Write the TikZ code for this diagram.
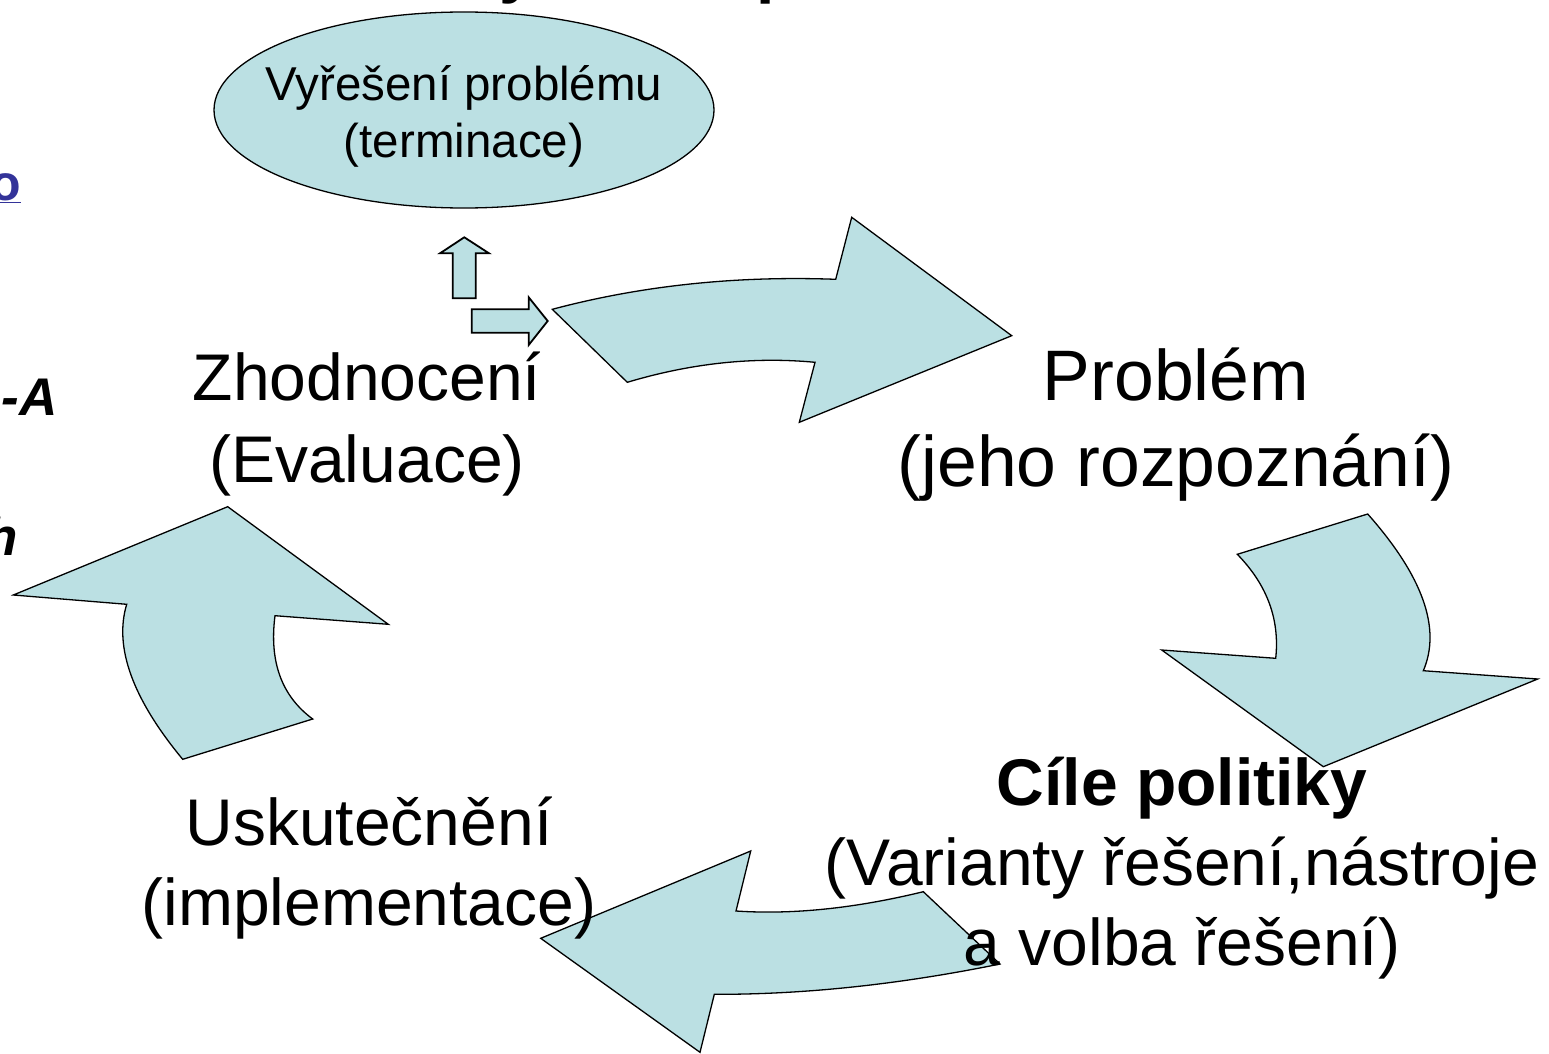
\documentclass[tikz,border=0pt]{standalone}
\usepackage{fontspec}
\setmainfont{Liberation Sans}
\usetikzlibrary{shapes.geometric}
\definecolor{arrowfill}{RGB}{187,224,227}
\definecolor{linkblue}{RGB}{51,51,153}
\tikzset{
  bigarrow/.style={fill=arrowfill, draw=black, line width=1.3pt, line join=miter},
  smallarrow/.style={fill=arrowfill, draw=black, line width=1.8pt, line join=miter},
  stagelabel/.style={align=center, inner sep=0pt, font=\fontsize{66}{80}\selectfont},
  fragment/.style={inner sep=0pt, font=\fontsize{53}{60}\selectfont\bfseries\itshape},
}
\begin{document}
\begin{tikzpicture}[x=1pt,y=-1pt]
\useasboundingbox (0,0) rectangle (1549,1054);
\begin{scope}
\clip (0,0) rectangle (1549,1054);
% clipped fragments of surrounding slide text
\node[inner sep=0pt, anchor=base, font=\fontsize{66}{70}\selectfont\bfseries] (fy) at (518,-9) {y};
\node[inner sep=0pt, anchor=base, font=\fontsize{66}{70}\selectfont\bfseries] (fp) at (777,-9) {p};
\node[inner sep=0pt, anchor=base east, text=linkblue, font=\fontsize{50}{60}\selectfont\bfseries] (fo) at (21,200) {\underline{o}};
\node[fragment, anchor=base east] (fa) at (58,415) {-A};
\node[fragment, anchor=base east] (fh) at (18,555) {h};
\end{scope}

% ellipse
\node[ellipse, draw=black, line width=1.3pt, fill=arrowfill, minimum width=500pt, minimum height=196pt, inner sep=0pt] (term) at (464,110) {};
\node[align=center, inner sep=0pt, font=\fontsize{47.5}{57}\selectfont] (termtext) at (464,116) {Vyřešení problému\\(terminace)};

% small arrows
\draw[smallarrow] (464.3,237.3) -- (489,253.3) -- (475.7,253.3) -- (475.7,298.3) -- (452.7,298.3) -- (452.7,253.3) -- (440,253.3) -- cycle;
\draw[smallarrow] (547.7,321) -- (528.7,345) -- (528.7,332.7) -- (471.7,332.7) -- (471.7,309.3) -- (528.7,309.3) -- (528.7,297.3) -- cycle;

% big arrow 1: evaluation -> problem
\draw[bigarrow] (552.3,309.3) .. controls (641.4,285.6) and (735.9,275.6) .. (835.7,279.3) -- (851.7,217.3) -- (1011.7,335.7) -- (799.3,422.3) -- (815,362.3) .. controls (753.6,356.5) and (691.0,363.2) .. (627.3,382.3) -- cycle;
% big arrow 2: problem -> goals
\draw[bigarrow] (1367.7,514) .. controls (1422.9,576.3) and (1441.4,628.6) .. (1423.3,670.7) -- (1537.7,679) -- (1323.3,766.7) -- (1161.7,650) -- (1275.7,658.3) .. controls (1279.9,619.4) and (1267.1,584.8) .. (1237.3,554.3) -- cycle;
% big arrow 3: goals -> implementation
\draw[bigarrow] (923.3,891.7) .. controls (854.7,908.4) and (792.3,914.8) .. (736,911) -- (750.7,851) -- (540.7,938.3) -- (700,1052.3) -- (714.3,994.3) .. controls (804.0,994.6) and (899.2,984.5) .. (1000,964) -- cycle;
% big arrow 4: implementation -> evaluation
\draw[bigarrow] (182.7,759.3) .. controls (132.4,698.6) and (113.8,646.9) .. (126.7,604.3) -- (13.3,595) -- (227.7,506.7) -- (388.3,624.3) -- (275,615.7) .. controls (269.1,661.7) and (281.6,696.1) .. (312.7,719) -- cycle;

% stage labels
\node[stagelabel, font=\fontsize{66}{82}\selectfont] (eval) at (367,424) {Zhodnocení\\(Evaluace)};
\node[stagelabel, font=\fontsize{71.5}{86}\selectfont] (problem) at (1176,425) {Problém\\(jeho rozpoznání)};
\node[stagelabel] (impl) at (369,868) {Uskutečnění\\(implementace)};
\node[stagelabel] (goals) at (1182,868) {\textbf{Cíle politiky}\\(Varianty řešení,nástroje\\a volba řešení)};
\end{tikzpicture}
\end{document}
